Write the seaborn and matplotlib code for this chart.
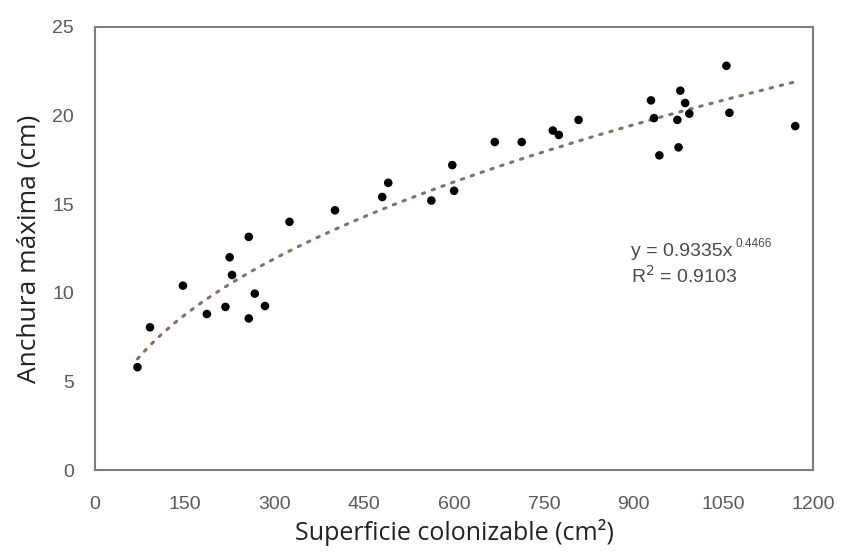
# Scatter of maximum width vs colonizable surface, with power trendline

import numpy as np
import pandas as pd
import matplotlib
matplotlib.use('Agg')
import matplotlib.pyplot as plt
import seaborn as sns

# data
superficie = [71, 92, 147, 187, 218, 225, 229, 257, 257, 267, 284, 325,
              401, 480, 490, 562, 597, 600, 668, 713, 765, 775, 808,
              929, 934, 943, 973, 975, 978, 986, 993, 1055, 1060, 1170]
anchura = [5.8, 8.05, 10.4, 8.8, 9.2, 12.0, 11.0, 13.15, 8.55, 9.95, 9.25, 14.0,
           14.65, 15.4, 16.2, 15.2, 17.2, 15.75, 18.5, 18.5, 19.15, 18.9, 19.75,
           20.85, 19.85, 17.75, 19.75, 18.2, 21.4, 20.7, 20.1, 22.8, 20.15, 19.4]

# power trendline shown on the chart
coef_a = 0.9335
coef_b = 0.4466
r2 = 0.9103

x_ticks = [0, 150, 300, 450, 600, 750, 900, 1050, 1200]
y_ticks = [0, 5, 10, 15, 20, 25]

df = pd.DataFrame({'Superficie': superficie, 'Anchura': anchura})

sns.set_style('white')
plt.rcParams['font.family'] = ['Liberation Sans', 'DejaVu Sans']

spine_col = '#857a75'
tick_col = '#5a5a5a'

fig = plt.figure(figsize=(8.42, 5.54), dpi=100)
ax = fig.add_axes([0.1128, 0.1516, 0.853, 0.80])

xfit = np.linspace(min(superficie), max(superficie), 200)
yfit = coef_a * xfit ** coef_b
ax.plot(xfit, yfit, color='#8a6e62', linewidth=2.2, linestyle=(0, (0.8, 2.6)),
        dash_capstyle='round', zorder=1)

sns.scatterplot(data=df, x='Superficie', y='Anchura', color='black', s=38,
                edgecolor='none', ax=ax, zorder=2)

ax.set_xlim(0, 1200)
ax.set_ylim(0, 25)
ax.set_xticks(x_ticks)
ax.set_yticks(y_ticks)
ax.tick_params(axis='both', direction='out', length=6, width=1.3, color=spine_col,
               labelsize=14, labelcolor=tick_col, pad=9)
ax.tick_params(axis='x', pad=13)
for s in ax.spines.values():
    s.set_color(spine_col)
    s.set_linewidth(1.5)

ax.set_xlabel('Superficie colonizable (cm²)', family=['Open Sans', 'DejaVu Sans'],
              fontsize=18, color='#222222', labelpad=4)
ax.set_ylabel('Anchura máxima (cm)', family=['Open Sans', 'DejaVu Sans'],
              fontsize=19, color='#222222', labelpad=8)

# equation, with a small exponent like the spreadsheet label
eq = ax.text(896, 12.3, 'y = %.4fx' % coef_a, fontsize=14, color='#4a4a4a', va='center')
ax.annotate('%.4f' % coef_b, xy=(1, 0.62), xycoords=eq, xytext=(2, 0),
            textcoords='offset points', fontsize=8.5, color='#4a4a4a', va='bottom')
ax.text(896, 10.95, 'R$^{2}$ = %.4f' % r2, fontsize=14, color='#4a4a4a', va='center')

fig.savefig('out.png', dpi=100)
